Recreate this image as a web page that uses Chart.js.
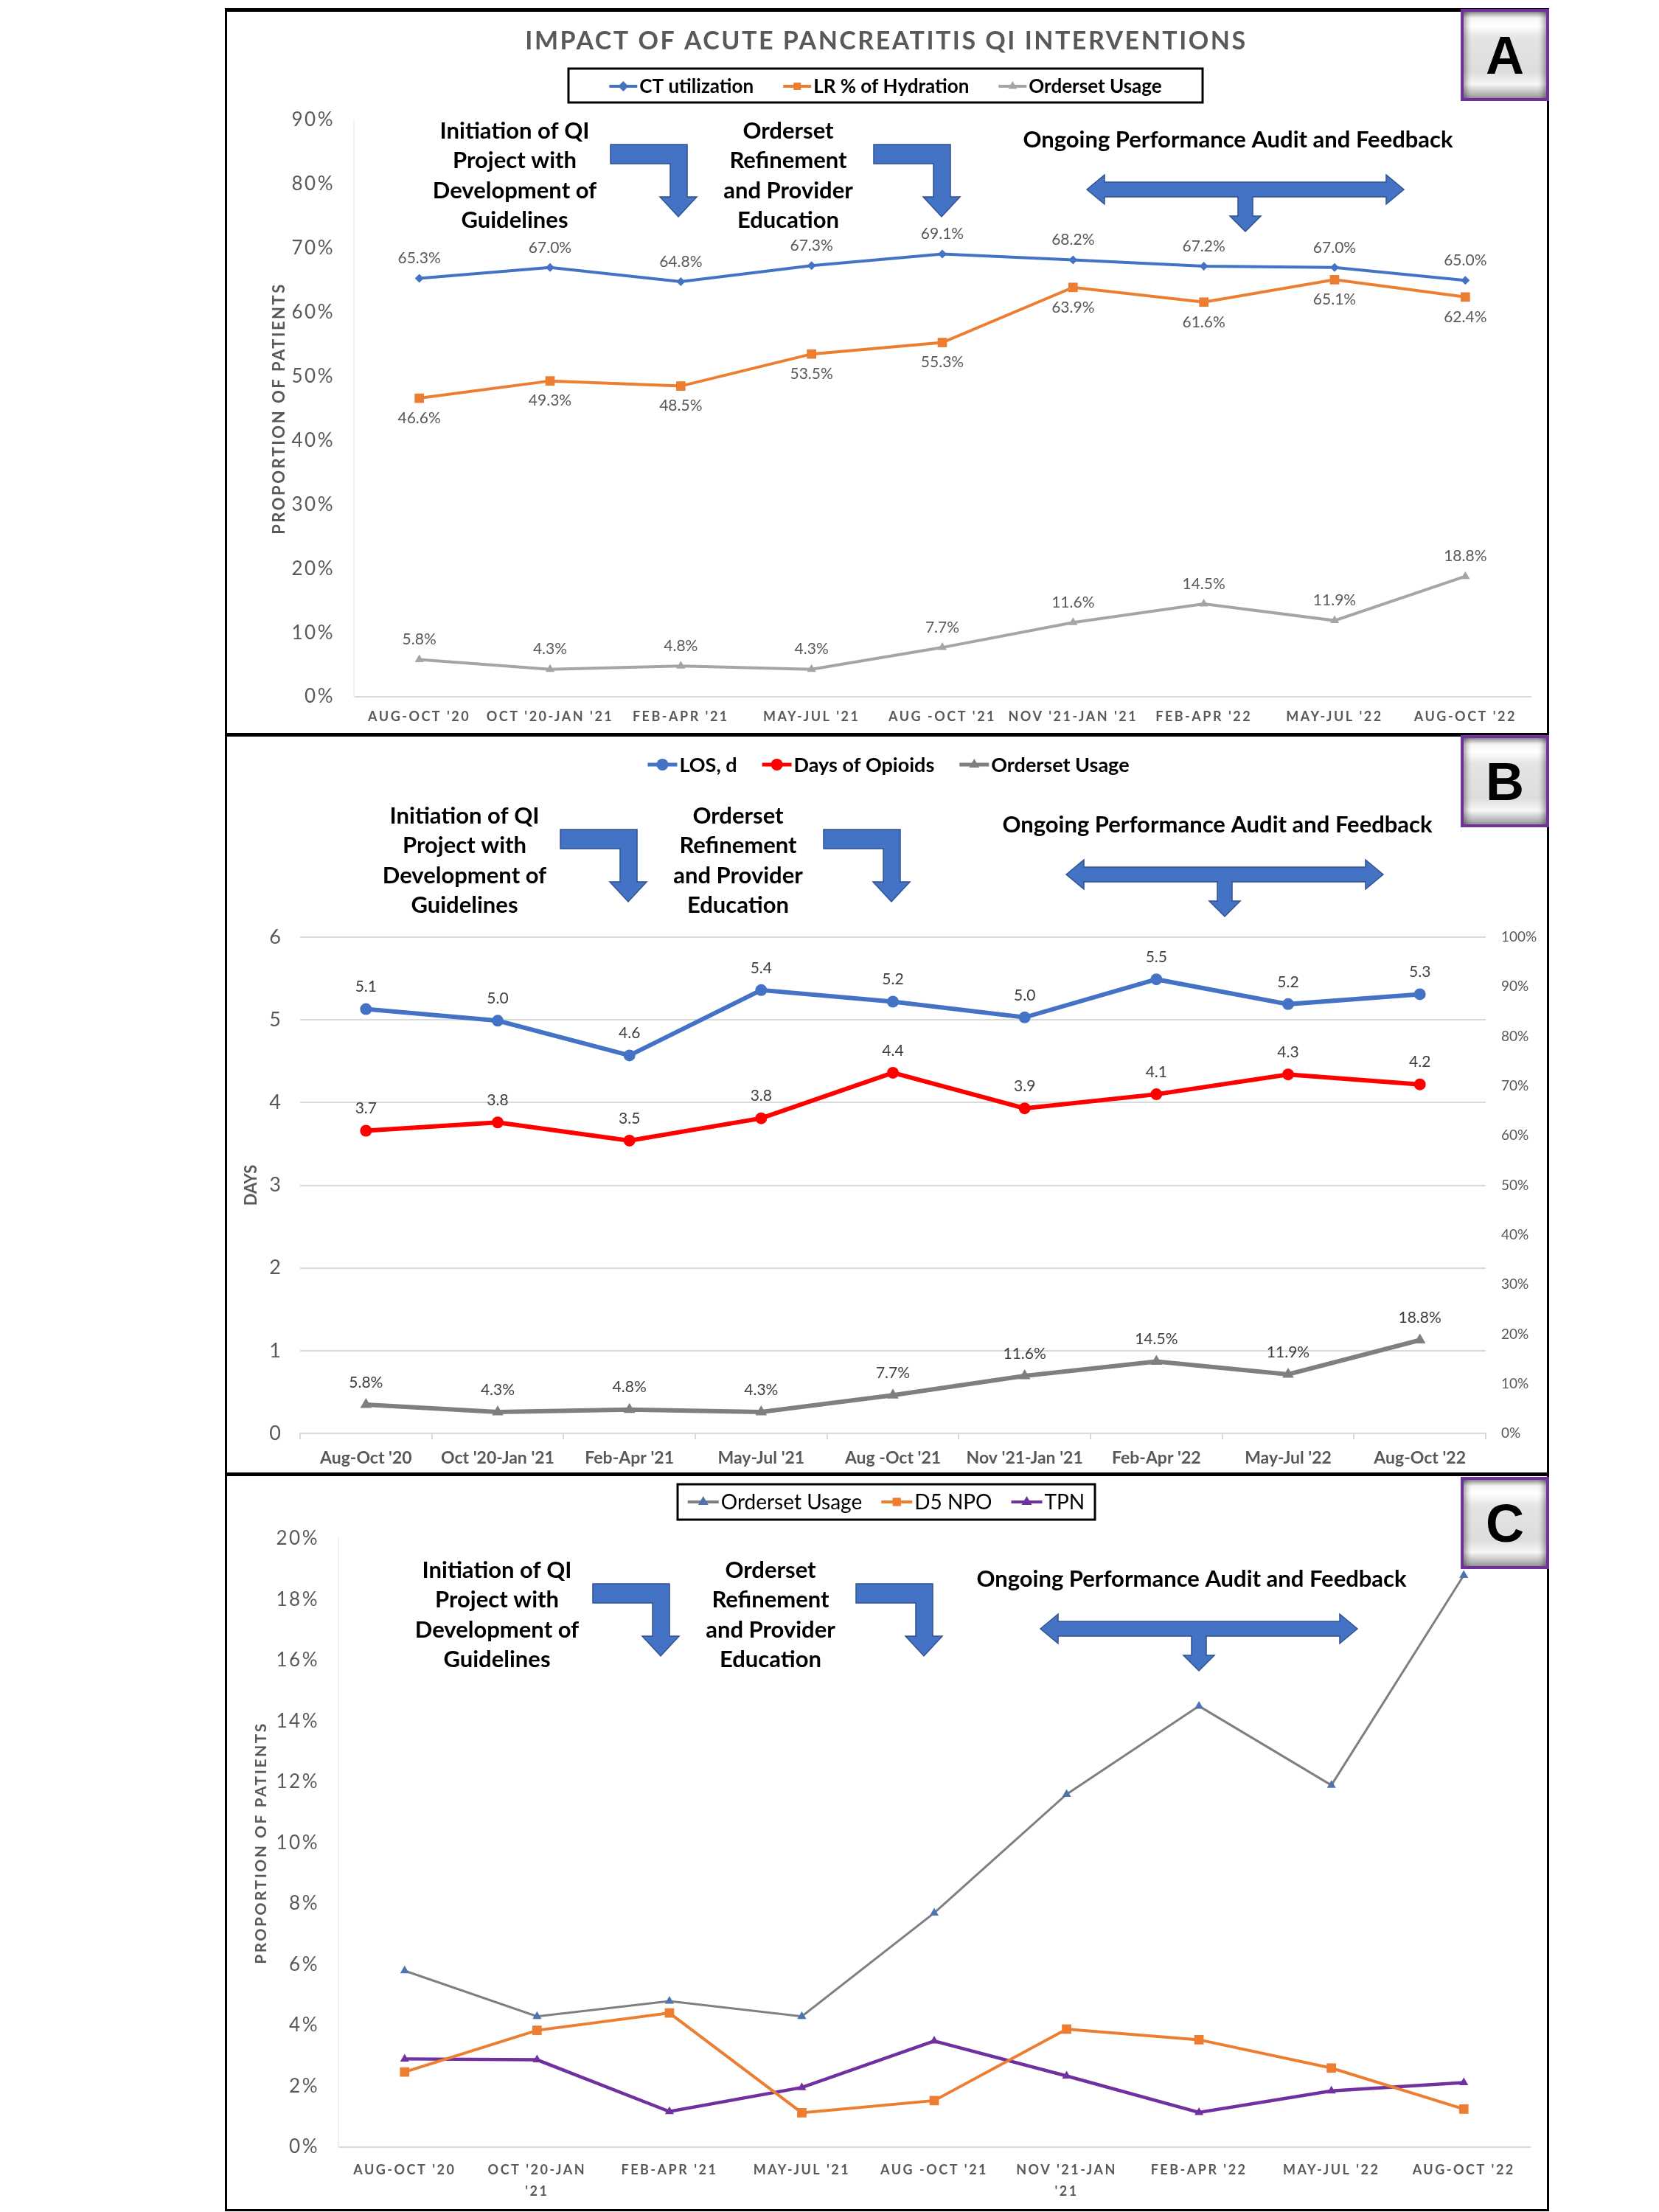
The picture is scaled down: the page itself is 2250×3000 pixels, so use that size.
<!DOCTYPE html>
<html>
<head>
<meta charset="utf-8">
<title>Impact of Acute Pancreatitis QI Interventions</title>
<script src="https://cdn.jsdelivr.net/npm/chart.js@4.4.1/dist/chart.umd.min.js"></script>
<style>
  html, body { margin: 0; padding: 0; background: #fff; }
  body { position: relative; width: 2250px; height: 3000px; overflow: hidden; }
  .frame { position: absolute; left: 305px; top: 11px; width: 1796px; height: 2988px; box-sizing: border-box; border: 3px solid #000; border-top-width: 5px; }
  .divider { position: absolute; left: 305px; width: 1796px; height: 5px; background: #000; }
  .panel { position: absolute; left: 310px; width: 1786px; }
  .badge {
    position: absolute; left: 1981px; width: 120px; height: 125px; box-sizing: border-box;
    border: 4px solid #7030A0;
    background: linear-gradient(to bottom, #8c8c8c 0%, #f4f4f4 7%, #ffffff 16%, #e4e4e4 30%, #dddddd 70%, #f7f7f7 84%, #9a9a9a 100%);
    box-shadow: inset 9px 0 7px -5px rgba(0,0,0,.35), inset -9px 0 7px -5px rgba(0,0,0,.35);
    display: flex; align-items: center; justify-content: center;
    font: bold 72px "Liberation Sans Narrow", "Liberation Sans", sans-serif; color: #000;
  }
</style>
</head>
<body>
<div class="frame"></div>
<div class="divider" style="top:994px"></div>
<div class="divider" style="top:1997px"></div>
<canvas id="chartA" class="panel" style="top:14px;height:980px" width="1786" height="980"></canvas>
<canvas id="chartB" class="panel" style="top:1000px;height:996px" width="1786" height="996"></canvas>
<canvas id="chartC" class="panel" style="top:2004px;height:992px" width="1786" height="992"></canvas>
<div class="badge" style="top:12px">A</div>
<div class="badge" style="top:997px">B</div>
<div class="badge" style="top:2003px">C</div>

<script>
// quarters
const periodsCaps = ["AUG-OCT '20", "OCT '20-JAN '21", "FEB-APR '21", "MAY-JUL '21", "AUG -OCT '21", "NOV '21-JAN '21", "FEB-APR '22", "MAY-JUL '22", "AUG-OCT '22"];
const periodsMixed = ["Aug-Oct '20", "Oct '20-Jan '21", "Feb-Apr '21", "May-Jul '21", "Aug -Oct '21", "Nov '21-Jan '21", "Feb-Apr '22", "May-Jul '22", "Aug-Oct '22"];
const periodsWrapped = ["AUG-OCT '20", ["OCT '20-JAN", "'21"], "FEB-APR '21", "MAY-JUL '21", "AUG -OCT '21", ["NOV '21-JAN", "'21"], "FEB-APR '22", "MAY-JUL '22", "AUG-OCT '22"];

// panel A (% of patients)
const ctUtilization = [65.3, 67.0, 64.8, 67.3, 69.1, 68.2, 67.2, 67.0, 65.0];
const lrHydration = [46.6, 49.3, 48.5, 53.5, 55.3, 63.9, 61.6, 65.1, 62.4];
const ordersetUsage = [5.8, 4.3, 4.8, 4.3, 7.7, 11.6, 14.5, 11.9, 18.8];

// panel B (days)
const losDays = [5.13, 4.99, 4.57, 5.36, 5.22, 5.03, 5.49, 5.19, 5.31];
const opioidDays = [3.66, 3.76, 3.54, 3.81, 4.36, 3.93, 4.10, 4.34, 4.22];

// panel C (% of patients)
const d5Npo = [2.47, 3.84, 4.41, 1.13, 1.53, 3.88, 3.53, 2.60, 1.25];
const tpn = [2.90, 2.87, 1.17, 1.96, 3.49, 2.34, 1.14, 1.85, 2.12];

const pctTicksA = [0, 90, 10];
const dayTicksB = [0, 6, 1];
const pctTicksB = [0, 100, 10];
const pctTicksC = [0, 20, 2];

const FONT = "Lato, 'Open Sans', sans-serif";
Chart.defaults.font.family = FONT;

const NOTE_LEFT = ['Initiation of QI', 'Project with', 'Development of', 'Guidelines'];
const NOTE_MID = ['Orderset', 'Refinement', 'and Provider', 'Education'];
const NOTE_RIGHT = 'Ongoing Performance Audit and Feedback';

function bentArrow(ctx, x, y) {
  ctx.beginPath();
  ctx.moveTo(x, y);
  ctx.lineTo(x + 104, y);
  ctx.lineTo(x + 104, y + 71);
  ctx.lineTo(x + 117, y + 71);
  ctx.lineTo(x + 92, y + 98);
  ctx.lineTo(x + 67, y + 71);
  ctx.lineTo(x + 81, y + 71);
  ctx.lineTo(x + 81, y + 26);
  ctx.lineTo(x, y + 26);
  ctx.closePath();
  ctx.fill();
  ctx.stroke();
}

function doubleArrow(ctx, x1, x2, cy) {
  const cx = (x1 + x2) / 2, hl = 24;
  ctx.beginPath();
  ctx.moveTo(x1, cy);
  ctx.lineTo(x1 + hl, cy - 20);
  ctx.lineTo(x1 + hl, cy - 10);
  ctx.lineTo(x2 - hl, cy - 10);
  ctx.lineTo(x2 - hl, cy - 20);
  ctx.lineTo(x2, cy);
  ctx.lineTo(x2 - hl, cy + 20);
  ctx.lineTo(x2 - hl, cy + 10);
  ctx.lineTo(cx + 10, cy + 10);
  ctx.lineTo(cx + 10, cy + 36);
  ctx.lineTo(cx + 21, cy + 36);
  ctx.lineTo(cx, cy + 57);
  ctx.lineTo(cx - 21, cy + 36);
  ctx.lineTo(cx - 10, cy + 36);
  ctx.lineTo(cx - 10, cy + 10);
  ctx.lineTo(x1 + hl, cy + 10);
  ctx.lineTo(x1 + hl, cy + 20);
  ctx.closePath();
  ctx.fill();
  ctx.stroke();
}

// n.dxL / n.dxR / n.dy shift the panel A layout into this canvas
function drawNotes(ctx, n) {
  const rows = [178, 218, 259, 299];
  ctx.save();
  ctx.fillStyle = '#000';
  ctx.font = 'bold 31px ' + FONT;
  ctx.textAlign = 'center';
  ctx.textBaseline = 'middle';
  NOTE_LEFT.forEach((t, i) => ctx.fillText(t, 705 + n.dxL, rows[i] + n.dy));
  NOTE_MID.forEach((t, i) => ctx.fillText(t, 1076 + n.dxL, rows[i] + n.dy));
  ctx.fillText(NOTE_RIGHT, 1694 + n.dxR, 190 + n.dy);
  ctx.fillStyle = '#4472C4';
  ctx.strokeStyle = '#2F528F';
  ctx.lineWidth = 1.5;
  bentArrow(ctx, 835 + n.dxL, 196 + n.dy);
  bentArrow(ctx, 1192 + n.dxL, 196 + n.dy);
  doubleArrow(ctx, 1489 + n.dxR, 1919 + n.dxR, 257 + n.dy);
  ctx.restore();
}

function drawLegend(ctx, chart, lg) {
  ctx.save();
  ctx.font = lg.font;
  ctx.textBaseline = 'middle';
  ctx.textAlign = 'left';
  const items = chart.data.datasets.map(ds => ({
    text: ds.label, line: ds.borderColor,
    mark: ds.pointBackgroundColor || ds.borderColor, style: ds.pointStyle
  }));
  const widths = items.map(it => lg.line + 3 + ctx.measureText(it.text).width);
  const total = widths.reduce((a, b) => a + b, 0) + lg.gap * (items.length - 1);
  let x = lg.cx - total / 2;
  items.forEach((it, i) => {
    ctx.strokeStyle = it.line;
    ctx.lineWidth = lg.lineWidth;
    ctx.beginPath();
    ctx.moveTo(x, lg.cy);
    ctx.lineTo(x + lg.line, lg.cy);
    ctx.stroke();
    ctx.fillStyle = it.mark;
    Chart.helpers.drawPoint(ctx, { pointStyle: it.style, radius: lg.r, rotation: 0, borderWidth: 0 }, x + lg.line / 2, lg.cy);
    ctx.fillStyle = lg.color;
    ctx.fillText(it.text, x + lg.line + 3, lg.cy + 1);
    x += widths[i] + lg.gap;
  });
  if (lg.box) {
    ctx.strokeStyle = '#000';
    ctx.lineWidth = 3;
    ctx.strokeRect(lg.box[0], lg.box[1], lg.box[2], lg.box[3]);
  }
  ctx.restore();
}

// per-canvas extras (title, legend, value labels, notes)
const decorConfig = {
  chartA: {
    axisSpacing: '2.5px',
    title: { text: 'IMPACT OF ACUTE PANCREATITIS QI INTERVENTIONS', x: 892, y: 42, font: 'bold 34px ' + FONT, color: '#595959', spacing: '2.5px' },
    legend: { cx: 891, cy: 103, font: 'bold 26px ' + FONT, color: '#000', line: 38, lineWidth: 4, r: 7, gap: 40, box: [461, 79, 860, 46] },
    labels: [{ ds: 0, pos: -1, suffix: '%' }, { ds: 1, pos: 1, suffix: '%' }, { ds: 2, pos: -1, suffix: '%' }],
    labelFont: '21px ' + FONT, labelColor: '#595959', labelOff: 27,
    notes: { dxL: -317, dxR: -325, dy: -14 }
  },
  chartB: {
    axisSpacing: '0px',
    legend: { cx: 895, cy: 37, font: 'bold 27px ' + FONT, color: '#000', line: 40, lineWidth: 5, r: 8, gap: 34 },
    labels: [{ ds: 0, pos: -1, suffix: '' }, { ds: 1, pos: -1, suffix: '' }, { ds: 2, pos: -1, suffix: '%' }],
    labelFont: '21px ' + FONT, labelColor: '#404040', labelOff: 30,
    notes: { dxL: -385, dxR: -353, dy: -71 }
  },
  chartC: {
    axisSpacing: '2.5px',
    legend: { cx: 892, cy: 33, font: '28px ' + FONT, color: '#000', line: 42, lineWidth: 4, r: 8, gap: 26, box: [609, 9, 566, 48] },
    labels: [],
    notes: { dxL: -341, dxR: -388, dy: -52 }
  }
};

const decorPlugin = {
  id: 'decor',
  beforeDraw(chart) {
    chart.ctx.letterSpacing = decorConfig[chart.canvas.id].axisSpacing;
  },
  beforeDatasetsDraw(chart) {
    chart.ctx.letterSpacing = '0px';
  },
  afterDatasetsDraw(chart) {
    const o = decorConfig[chart.canvas.id];
    const ctx = chart.ctx;
    ctx.save();
    ctx.font = o.labelFont;
    ctx.fillStyle = o.labelColor;
    ctx.textAlign = 'center';
    ctx.textBaseline = 'middle';
    o.labels.forEach(l => {
      const vals = chart.data.datasets[l.ds].data;
      chart.getDatasetMeta(l.ds).data.forEach((pt, j) => {
        ctx.fillText(vals[j].toFixed(1) + l.suffix, pt.x, pt.y + l.pos * o.labelOff);
      });
    });
    ctx.restore();
  },
  afterDraw(chart) {
    const o = decorConfig[chart.canvas.id];
    const ctx = chart.ctx;
    if (o.title) {
      ctx.save();
      ctx.letterSpacing = o.title.spacing;
      ctx.font = o.title.font;
      ctx.fillStyle = o.title.color;
      ctx.textAlign = 'center';
      ctx.textBaseline = 'middle';
      ctx.fillText(o.title.text, o.title.x, o.title.y);
      ctx.restore();
    }
    drawLegend(ctx, chart, o.legend);
    drawNotes(ctx, o.notes);
  }
};

const common = {
  responsive: false,
  animation: false,
  devicePixelRatio: 1,
  plugins: { legend: { display: false }, tooltip: { enabled: false } }
};

// Panel A
new Chart(document.getElementById('chartA'), {
  type: 'line',
  plugins: [decorPlugin],
  data: {
    labels: periodsCaps,
    datasets: [
      { label: 'CT utilization', data: ctUtilization, borderColor: '#4472C4', backgroundColor: '#4472C4', borderWidth: 4, pointStyle: 'rectRot', pointRadius: 6, pointBorderWidth: 0 },
      { label: 'LR % of Hydration', data: lrHydration, borderColor: '#ED7D31', backgroundColor: '#ED7D31', borderWidth: 4, pointStyle: 'rect', pointRadius: 9, pointBorderWidth: 0 },
      { label: 'Orderset Usage', data: ordersetUsage, borderColor: '#A5A5A5', backgroundColor: '#A5A5A5', borderWidth: 4, pointStyle: 'triangle', pointRadius: 7, pointBorderWidth: 0 }
    ]
  },
  options: {
    ...common,
    layout: { padding: { left: 52, right: 20, top: 149, bottom: 0 } },
    scales: {
      x: {
        offset: true,
        grid: { drawOnChartArea: false, drawTicks: false },
        border: { color: '#D9D9D9', width: 2 },
        ticks: { autoSkip: false, maxRotation: 0, minRotation: 0, padding: 16, color: '#595959', font: { size: 18, weight: 'bold' } },
        afterFit: s => { s.height = 49; }
      },
      y: {
        min: pctTicksA[0], max: pctTicksA[1],
        grid: { drawOnChartArea: false, drawTicks: false },
        border: { color: '#F0F0F0', width: 2 },
        ticks: { stepSize: pctTicksA[2], padding: 26, color: '#595959', font: { size: 26 }, callback: v => v + '%' },
        title: { display: true, text: 'PROPORTION OF PATIENTS', color: '#595959', font: { size: 22, weight: 'bold' } },
        afterFit: s => { s.width = 118; }
      }
    }
  }
});

// Panel B
new Chart(document.getElementById('chartB'), {
  type: 'line',
  plugins: [decorPlugin],
  data: {
    labels: periodsMixed,
    datasets: [
      { label: 'LOS, d', data: losDays, yAxisID: 'y', borderColor: '#4472C4', backgroundColor: '#4472C4', borderWidth: 6, pointStyle: 'circle', pointRadius: 8, pointBorderWidth: 0 },
      { label: 'Days of Opioids', data: opioidDays, yAxisID: 'y', borderColor: '#FF0000', backgroundColor: '#FF0000', borderWidth: 6, pointStyle: 'circle', pointRadius: 8, pointBorderWidth: 0 },
      { label: 'Orderset Usage', data: ordersetUsage, yAxisID: 'y1', borderColor: '#7F7F7F', backgroundColor: '#7F7F7F', borderWidth: 6, pointStyle: 'triangle', pointRadius: 9, pointBorderWidth: 0 }
    ]
  },
  options: {
    ...common,
    layout: { padding: { left: 14, right: 0, top: 271, bottom: 0 } },
    scales: {
      x: {
        offset: true,
        grid: { offset: true, drawOnChartArea: false, drawTicks: true, tickLength: 8, color: '#D9D9D9', lineWidth: 2 },
        border: { color: '#D9D9D9', width: 2 },
        ticks: { autoSkip: false, maxRotation: 0, minRotation: 0, padding: 12, color: '#595959', font: { size: 23, weight: 'bold' } },
        afterFit: s => { s.height = 52; }
      },
      y: {
        position: 'left',
        min: dayTicksB[0], max: dayTicksB[1],
        grid: { color: '#D9D9D9', lineWidth: 2, drawTicks: false },
        border: { display: false },
        ticks: { stepSize: dayTicksB[2], padding: 26, color: '#595959', font: { size: 27 } },
        title: { display: true, text: 'DAYS', color: '#595959', font: { size: 22, weight: 'bold' } },
        afterFit: s => { s.width = 83; }
      },
      y1: {
        position: 'right',
        min: pctTicksB[0], max: pctTicksB[1],
        grid: { drawOnChartArea: false, drawTicks: false },
        border: { display: false },
        ticks: { stepSize: pctTicksB[2], padding: 21, color: '#595959', font: { size: 19 }, callback: v => v + '%' },
        afterFit: s => { s.width = 81; }
      }
    }
  }
});

// Panel C
new Chart(document.getElementById('chartC'), {
  type: 'line',
  plugins: [decorPlugin],
  data: {
    labels: periodsWrapped,
    datasets: [
      { label: 'Orderset Usage', data: ordersetUsage, borderColor: '#7F7F7F', backgroundColor: '#4E74AE', pointBackgroundColor: '#4E74AE', borderWidth: 3, pointStyle: 'triangle', pointRadius: 7, pointBorderWidth: 0 },
      { label: 'D5 NPO', data: d5Npo, borderColor: '#ED7D31', backgroundColor: '#ED7D31', borderWidth: 4, pointStyle: 'rect', pointRadius: 9, pointBorderWidth: 0 },
      { label: 'TPN', data: tpn, borderColor: '#7030A0', backgroundColor: '#7030A0', borderWidth: 4.5, pointStyle: 'triangle', pointRadius: 7, pointBorderWidth: 0 }
    ]
  },
  options: {
    ...common,
    layout: { padding: { left: 28, right: 21, top: 83, bottom: 0 } },
    scales: {
      x: {
        offset: true,
        grid: { drawOnChartArea: false, drawTicks: false },
        border: { color: '#D9D9D9', width: 2 },
        ticks: { autoSkip: false, maxRotation: 0, minRotation: 0, padding: 17, color: '#595959', font: { size: 18, weight: 'bold', lineHeight: 1.6 } },
        afterFit: s => { s.height = 84; }
      },
      y: {
        min: pctTicksC[0], max: pctTicksC[1],
        grid: { drawOnChartArea: false, drawTicks: false },
        border: { color: '#F0F0F0', width: 2 },
        ticks: { stepSize: pctTicksC[2], padding: 26, color: '#595959', font: { size: 26 }, callback: v => v + '%' },
        title: { display: true, text: 'PROPORTION OF PATIENTS', color: '#595959', font: { size: 21, weight: 'bold' } },
        afterFit: s => { s.width = 121; }
      }
    }
  }
});
</script>
</body>
</html>
